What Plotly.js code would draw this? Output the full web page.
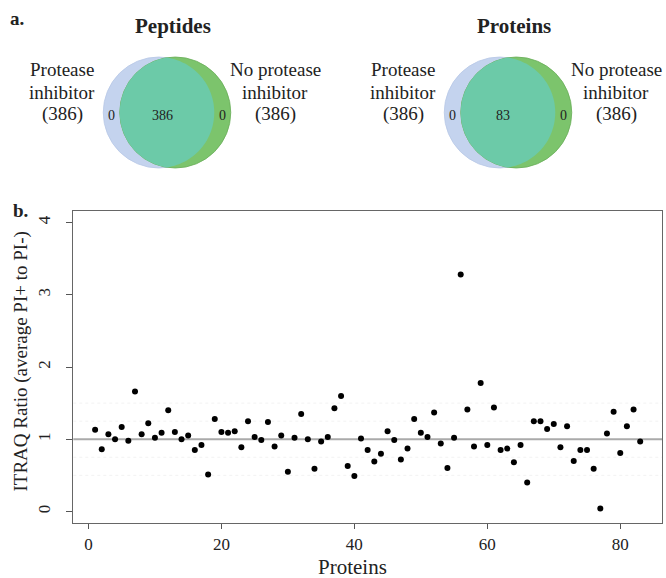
<!DOCTYPE html>
<html>
<head>
<meta charset="utf-8">
<script src="https://cdn.plot.ly/plotly-3.0.1.min.js"></script>
<style>html,body{margin:0;padding:0;background:#fff;}#chart{width:666px;height:578px;}</style>
</head>
<body>
<div id="chart"></div>
<script>
// ---- Data ----
const vennTitles = ['Peptides', 'Proteins'];
const leftSetLines = ['Protease', 'inhibitor'];
const rightSetLines = ['No protease', 'inhibitor'];
const leftTotals = [386, 386];
const rightTotals = [386, 386];
const leftOnly = [0, 0];
const shared = [386, 83];
const rightOnly = [0, 0];

const proteinIndex = [];
for (let i = 1; i <= 83; i++) proteinIndex.push(i);
const itraqRatio = [
  1.13, 0.86, 1.07, 1.00, 1.17, 0.98, 1.66, 1.07, 1.22, 1.02,
  1.09, 1.40, 1.10, 1.00, 1.05, 0.85, 0.92, 0.51, 1.28, 1.10,
  1.09, 1.11, 0.89, 1.25, 1.03, 0.99, 1.24, 0.90, 1.05, 0.55,
  1.02, 1.35, 1.00, 0.59, 0.97, 1.03, 1.43, 1.60, 0.63, 0.49,
  1.01, 0.85, 0.69, 0.80, 1.11, 0.99, 0.72, 0.87, 1.28, 1.09,
  1.03, 1.37, 0.94, 0.60, 1.02, 3.28, 1.41, 0.90, 1.78, 0.92,
  1.44, 0.85, 0.87, 0.68, 0.92, 0.40, 1.25, 1.25, 1.14, 1.21,
  0.89, 1.18, 0.70, 0.85, 0.85, 0.59, 0.04, 1.08, 1.38, 0.81,
  1.18, 1.41, 0.97
];
const xTicks = [0, 20, 40, 60, 80];
const yTicks = [0, 1, 2, 3, 4];
const refLines = [0.5, 0.75, 1.25, 1.5];

// ---- Layout helpers ----
const W = 666, H = 578;
const FONT = 'Liberation Serif, Times New Roman, serif';
const TXT = '#222';
const plotL = 73.3, plotR = 662, plotT = 211, plotB = 523;
const PX = x => x / W;
const PY = y => 1 - y / H;

const vennCx = [167, 508];
const vennSep = 16.5;
const vennR = 55.5;
const vennCy = 112.5;
const blue = '#c4d3ee', green = '#7cc46c', teal = '#6ccaa8';

const shapes = [];
const annotations = [];

function lensPath(ax, bx, cy, r) {
  const d = bx - ax;
  const th = Math.acos((d / 2) / r);
  const pts = [];
  const m = 60;
  for (let k = 0; k <= m; k++) {
    const a = -th + 2 * th * k / m;
    pts.push([ax + r * Math.cos(a), cy + r * Math.sin(a)]);
  }
  for (let k = 0; k <= m; k++) {
    const a = Math.PI - th + 2 * th * k / m;
    pts.push([bx + r * Math.cos(a), cy + r * Math.sin(a)]);
  }
  return 'M' + pts.map(p => PX(p[0]).toFixed(5) + ',' + PY(p[1]).toFixed(5)).join('L') + 'Z';
}

function ann(x, y, text, size, extra) {
  annotations.push(Object.assign({
    xref: 'paper', yref: 'paper', x: PX(x), y: PY(y), text: text, showarrow: false,
    xanchor: 'center', yanchor: 'middle',
    font: {family: FONT, size: size, color: TXT}
  }, extra || {}));
}

vennTitles.forEach((t, i) => {
  const c = vennCx[i];
  const ax = c - vennSep / 2, bx = c + vennSep / 2;
  shapes.push({type: 'circle', xref: 'paper', yref: 'paper', layer: 'above',
    x0: PX(ax - vennR), x1: PX(ax + vennR), y0: PY(vennCy + vennR), y1: PY(vennCy - vennR),
    fillcolor: blue, line: {color: '#b8c8e6', width: 0.8}});
  shapes.push({type: 'circle', xref: 'paper', yref: 'paper', layer: 'above',
    x0: PX(bx - vennR), x1: PX(bx + vennR), y0: PY(vennCy + vennR), y1: PY(vennCy - vennR),
    fillcolor: green, line: {color: '#68ad58', width: 0.8}});
  shapes.push({type: 'path', xref: 'paper', yref: 'paper', layer: 'above',
    path: lensPath(ax, bx, vennCy, vennR), fillcolor: teal, line: {width: 0}});

  ann(c + 6, 26, '<b>' + t + '</b>', 21);
  ann(ax - 47.5, 115, String(leftOnly[i]), 14);
  ann(c - 5, 115, String(shared[i]), 14);
  ann(bx + 47.5, 115, String(rightOnly[i]), 14);

  const lx = c - 105, rx = c + 108;
  ann(lx, 69.5, leftSetLines[0], 19);
  ann(lx, 92, leftSetLines[1], 19);
  ann(lx, 114.5, '(' + leftTotals[i] + ')', 19);
  ann(rx, 69.5, rightSetLines[0], 19);
  ann(rx, 92, rightSetLines[1], 19);
  ann(rx, 114.5, '(' + rightTotals[i] + ')', 19);
});

ann(17, 19, '<b>a.</b>', 19);
ann(21, 211, '<b>b.</b>', 19);
ann(20.5, 362, 'ITRAQ Ratio (average PI+ to PI-)', 19, {textangle: -90});
ann(352, 567, 'Proteins', 21);

refLines.forEach(v => {
  shapes.push({type: 'line', xref: 'x domain', yref: 'y', x0: 0, x1: 1, y0: v, y1: v,
    layer: 'below', line: {color: '#f2f2f2', width: 1, dash: 'dot'}});
});
shapes.push({type: 'line', xref: 'x domain', yref: 'y', x0: 0, x1: 1, y0: 1, y1: 1,
  layer: 'below', line: {color: '#aaaaaa', width: 2}});

const n = proteinIndex.length;
const pad = 0.04 * (n - 1);

const data = [{
  type: 'scatter', mode: 'markers', x: proteinIndex, y: itraqRatio,
  marker: {color: '#000', size: 6}, hoverinfo: 'x+y'
}];

const layout = {
  width: W, height: H,
  margin: {l: 0, r: 0, t: 0, b: 0},
  paper_bgcolor: '#fff', plot_bgcolor: '#fff',
  showlegend: false,
  font: {family: FONT, color: TXT},
  xaxis: {
    domain: [plotL / W, plotR / W], range: [1 - pad, n + pad],
    tickmode: 'array', tickvals: xTicks, ticktext: xTicks.map(String),
    ticks: 'outside', ticklen: 5, tickcolor: '#555', tickwidth: 1,
    showgrid: false, zeroline: false,
    showline: true, mirror: true, linecolor: '#666', linewidth: 1.2,
    tickfont: {family: FONT, size: 17, color: TXT}
  },
  yaxis: {
    domain: [(H - plotB) / H, (H - plotT) / H], range: [-0.16, 4.16],
    tickmode: 'array', tickvals: yTicks, ticktext: yTicks.map(String),
    ticks: 'outside', ticklen: 6, tickcolor: '#555', tickwidth: 1,
    tickangle: -90, ticklabelstandoff: 9,
    showgrid: false, zeroline: false,
    showline: true, mirror: true, linecolor: '#666', linewidth: 1.2,
    tickfont: {family: FONT, size: 17, color: TXT}
  },
  shapes: shapes,
  annotations: annotations
};

Plotly.newPlot('chart', data, layout, {displayModeBar: false, staticPlot: true});
</script>
</body>
</html>
